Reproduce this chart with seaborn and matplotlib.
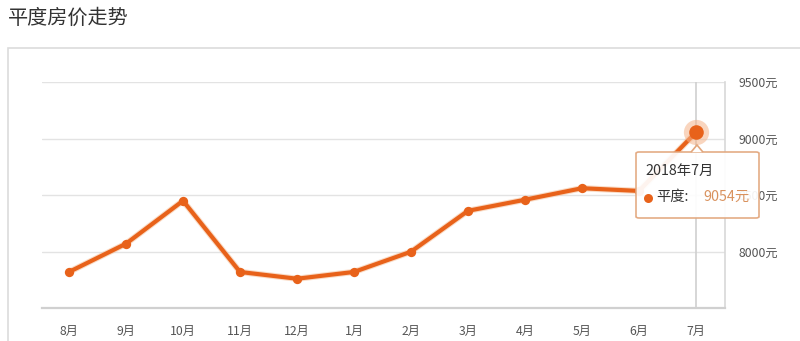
import matplotlib
matplotlib.use("Agg")
import matplotlib.pyplot as plt
import matplotlib.patheffects as pe
from matplotlib.patches import Rectangle, FancyBboxPatch, Polygon
from matplotlib.lines import Line2D
import seaborn as sns
import pandas as pd

months = ['8月', '9月', '10月', '11月', '12月', '1月', '2月', '3月', '4月', '5月', '6月', '7月']
prices = [7819, 8069, 8449, 7819, 7759, 7819, 7998, 8360, 8458, 8560, 8536, 9054]
y_ticks = [8000, 8500, 9000, 9500]
tooltip_title = '2018年7月'
series_name = '平度'

sns.set_theme(style="white")
plt.rcParams['font.family'] = ['Noto Sans CJK SC', 'DejaVu Sans']

W, H = 800, 341
fig = plt.figure(figsize=(W / 100, H / 100), dpi=100)
fig.patch.set_facecolor('white')

def fx(px):
    return px / W

def fy(py):
    return 1 - py / H

# outer frame
fig.patches.append(Rectangle((fx(8), fy(360)), fx(820) - fx(8), fy(48) - fy(360),
                             transform=fig.transFigure, fill=False,
                             edgecolor='#dcdcdc', lw=1.2))

fig.text(fx(8), fy(18), '平度房价走势', fontsize=14.5, color='#333333', va='center', ha='left')

ax = fig.add_axes([fx(42), fy(308), fx(725) - fx(42), fy(82) - fy(308)])
ax.set_facecolor('white')

df = pd.DataFrame({'idx': range(len(months)), 'price': prices})
line_color = '#e8621a'
sns.lineplot(data=df, x='idx', y='price', ax=ax, color=line_color, lw=3, zorder=5,
             path_effects=[pe.Stroke(linewidth=4.5, foreground='#f4b98f', alpha=0.5), pe.Normal()])
sns.scatterplot(data=df.iloc[:-1], x='idx', y='price', ax=ax, color=line_color, s=45,
                linewidth=0, zorder=6)

# highlighted last point
ax.scatter([len(months) - 1], [prices[-1]], s=330, color='#f5b48a', alpha=0.55, zorder=6, linewidths=0)
ax.scatter([len(months) - 1], [prices[-1]], s=110, color=line_color, zorder=7, linewidths=0)

# crosshair
ax.axvline(len(months) - 1, color='#cfcfcf', lw=1.2, zorder=1)

ax.set_xlim(-0.474, 11.51)
ax.set_ylim(7500, 9500)
ax.set_yticks(y_ticks)
ax.set_yticklabels([f'{v}元' for v in y_ticks])
ax.yaxis.tick_right()
ax.tick_params(axis='y', length=0, pad=10, labelsize=8.8, labelcolor='#555555')
ax.set_xticks(range(len(months)))
ax.set_xticklabels(months)
ax.tick_params(axis='x', length=4, width=1, color='#d0d0d0', pad=8, labelsize=8.8, labelcolor='#555555')
ax.grid(axis='y', color='#e3e3e3', lw=1)
ax.set_xlabel('')
ax.set_ylabel('')
for s in ['top', 'left']:
    ax.spines[s].set_visible(False)
ax.spines['bottom'].set_color('#d0d0d0')
ax.spines['bottom'].set_linewidth(1.6)
ax.spines['right'].set_color('#d8d8d8')
ax.spines['right'].set_linewidth(1.2)

# tooltip
tx0, tx1, ty0, ty1 = 636, 759, 152, 218
box = FancyBboxPatch((fx(tx0), fy(ty1)), fx(tx1) - fx(tx0), fy(ty0) - fy(ty1),
                     boxstyle='round,pad=0,rounding_size=0.004', transform=fig.transFigure,
                     facecolor='white', edgecolor='#e2a67c', lw=1.2, alpha=0.93, zorder=10)
fig.patches.append(box)
notch = Polygon([(fx(691), fy(ty0) - 0.0005), (fx(697), fy(145)), (fx(703), fy(ty0) - 0.0005)],
                closed=False, transform=fig.transFigure, facecolor='white',
                edgecolor='#e2a67c', lw=1.2, zorder=11)
fig.patches.append(notch)
fig.text(fx(645), fy(171), tooltip_title, fontsize=10.3, color='#333333', va='center', ha='left', zorder=12)
fig.add_artist(Line2D([fx(648)], [fy(198)], marker='o', markersize=6.5, color=line_color,
                      markeredgewidth=0, transform=fig.transFigure, zorder=12))
fig.text(fx(656), fy(197), f'{series_name}:', fontsize=10.3, color='#333333', va='center', ha='left', zorder=12)
fig.text(fx(703), fy(197), f'{prices[-1]}元', fontsize=10.3, color='#d9925e', va='center', ha='left', zorder=12)

fig.savefig('out.png', dpi=100, facecolor='white')
